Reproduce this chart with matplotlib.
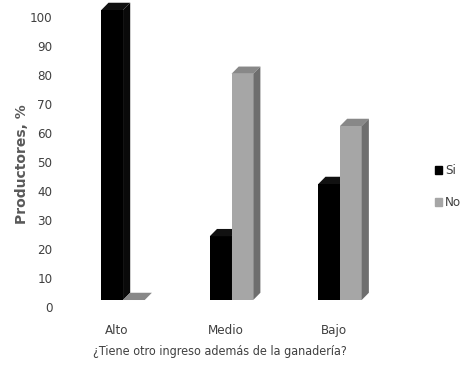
import numpy as np
import matplotlib
matplotlib.use('Agg')
import matplotlib.pyplot as plt
from matplotlib.patches import Polygon

# data
categories = ['Alto', 'Medio', 'Bajo']
si_values = [100, 22, 40]
no_values = [0, 78, 60]
series_names = ['Si', 'No']
yticks = list(range(0, 101, 10))

plt.rcParams['font.family'] = ['DejaVu Sans']
plt.rcParams['font.stretch'] = 'condensed'

fig = plt.figure(figsize=(4.61, 3.69), dpi=100)
ax = fig.add_axes([0.141, 0.1634, 0.7267, 0.8331])

width = 0.2
dx = 0.066   # depth of the 3d look, in category units
dy = 2.5     # depth of the 3d look, in value units
x = np.arange(len(categories))


def bar3d(ax, left, h, front, top, side):
    ax.bar(left, h, width=width, align='edge', color=front, zorder=2)
    r = left + width
    ax.add_patch(Polygon([(left, h), (left + dx, h + dy), (r + dx, h + dy), (r, h)],
                         closed=True, facecolor=top, edgecolor='none', zorder=2))
    ax.add_patch(Polygon([(r, 0), (r + dx, dy), (r + dx, h + dy), (r, h)],
                         closed=True, facecolor=side, edgecolor='none', zorder=2))


for i in range(len(categories)):
    bar3d(ax, x[i] - width, si_values[i], '#000000', '#111111', '#0a0a0a')
    bar3d(ax, x[i], no_values[i], '#a6a6a6', '#888888', '#6e6e6e')

ax.set_xlim(-0.535, 2.553)
ax.set_ylim(-3, 103)

# tick labels sit a little below the front floor edge, as in the 3d chart
ax.set_yticks(np.array(yticks) - 2.5)
ax.set_yticklabels([str(t) for t in yticks], fontsize=9.5, color='#404040')
ax.set_xticks(x - 0.055)
ax.set_xticklabels(categories, fontsize=9.5, color='#404040')
ax.tick_params(axis='both', length=0)
ax.tick_params(axis='x', pad=11)
ax.tick_params(axis='y', pad=9)
for s in ax.spines.values():
    s.set_visible(False)

fig.text(22 / 461, 1 - 164 / 369, 'Productores, %', rotation=90, ha='center', va='center',
         fontsize=10, color='#595959', fontweight='bold', fontstretch='normal')
fig.text(220 / 461, 1 - 352 / 369, '¿Tiene otro ingreso además de la ganadería?', ha='center',
         va='center', fontsize=9, color='#404040')

# legend
fig.patches.append(plt.Rectangle((435 / 461, 1 - 174 / 369), 7 / 461, 8 / 369,
                                 transform=fig.transFigure, color='#000000', figure=fig))
fig.patches.append(plt.Rectangle((435 / 461, 1 - 206 / 369), 7 / 461, 8 / 369,
                                 transform=fig.transFigure, color='#a6a6a6', figure=fig))
fig.text(445 / 461, 1 - 170 / 369, series_names[0], va='center', fontsize=9.5, color='#404040')
fig.text(445 / 461, 1 - 202 / 369, series_names[1], va='center', fontsize=9.5, color='#404040')

fig.savefig('out.png', dpi=100)
